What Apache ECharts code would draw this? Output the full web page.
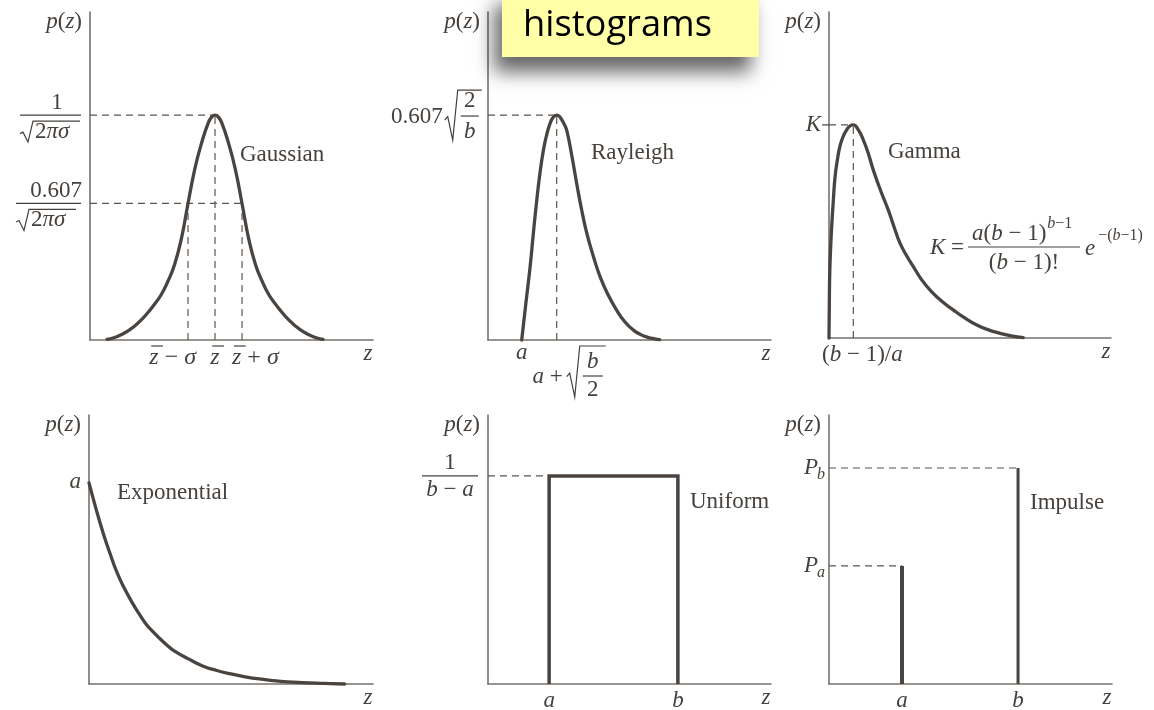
<!DOCTYPE html>
<html><head><meta charset="utf-8">
<script src="https://cdn.jsdelivr.net/npm/echarts@6/dist/echarts.min.js"></script>
<style>html,body{margin:0;padding:0;background:#fff}#c{width:1154px;height:710px}</style>
</head><body><div id="c"></div>
<script>
// ---------------- data ----------------
const gaussianCurve = [[-4,0.003],[-3.75,0.01],[-3.5,0.022],[-3.25,0.038],[-3,0.06],[-2.75,0.087],[-2.5,0.12],[-2.25,0.158],[-2,0.2],[-1.75,0.26],[-1.5,0.335],[-1.25,0.448],[-1,0.607],[-0.75,0.76],[-0.5,0.875],[-0.25,0.965],[-0.12,0.992],[0,1],[0.12,0.992],[0.25,0.965],[0.5,0.875],[0.75,0.76],[1,0.607],[1.25,0.448],[1.5,0.335],[1.75,0.26],[2,0.2],[2.25,0.158],[2.5,0.12],[2.75,0.087],[3,0.06],[3.25,0.038],[3.5,0.022],[3.75,0.01],[4,0.003]];
const gaussianMarks = [0, 1, 1, 0.607];            // mean, sigma, peak, level at ±sigma
const gaussianTicks = [-1, 0, 1];
const gaussianTickLabels = ['z\u0304 \u2212 \u03c3', 'z\u0304', 'z\u0304 + \u03c3'];

const rayleighCurve = [[0,0],[0.12,0.165],[0.24,0.326],[0.33,0.47],[0.43,0.622],[0.52,0.74],[0.62,0.844],[0.71,0.91],[0.81,0.963],[0.9,0.99],[1,1],[1.07,0.995],[1.14,0.98],[1.21,0.96],[1.29,0.93],[1.43,0.82],[1.57,0.696],[1.71,0.58],[1.86,0.474],[2.05,0.37],[2.24,0.281],[2.47,0.2],[2.71,0.133],[2.95,0.08],[3.19,0.044],[3.4,0.024],[3.6,0.012],[3.8,0.005],[3.94,0.002]];
const rayleighMarks = [0, 1, 1];                   // a, a+sqrt(b/2), peak
const rayleighTickLabels = ['a'];

const gammaCurve = [[0,0],[0.015,0.18],[0.03,0.3],[0.07,0.43],[0.11,0.52],[0.18,0.65],[0.25,0.757],[0.35,0.84],[0.45,0.9],[0.58,0.945],[0.73,0.977],[0.86,0.995],[1,1],[1.2,0.978],[1.41,0.93],[1.62,0.865],[1.82,0.789],[2.13,0.69],[2.44,0.6],[2.68,0.52],[2.92,0.445],[3.2,0.385],[3.47,0.335],[3.8,0.275],[4.16,0.225],[4.64,0.172],[5.12,0.131],[5.6,0.093],[6.08,0.061],[6.56,0.038],[7.04,0.022],[7.5,0.01],[7.99,0.002]];
const gammaMarks = [1, 1];                         // (b-1)/a, K
const gammaTickLabels = ['(b \u2212 1)/a'];

const exponentialCurve = [[0,1],[0.25,0.87],[0.5,0.75],[0.75,0.645],[1,0.55],[1.25,0.475],[1.5,0.41],[1.75,0.352],[2,0.3],[2.25,0.26],[2.5,0.225],[2.75,0.193],[3,0.165],[3.5,0.125],[4,0.09],[4.5,0.067],[5,0.05],[5.5,0.036],[6,0.025],[6.5,0.017],[7,0.011],[7.5,0.007],[8,0.004],[8.5,0.002],[9,0.0]];
const exponentialMarks = [1];                      // a

const uniformEdges = [2.16, 6.71];                 // a, b
const uniformHeight = [1];                         // 1/(b-a)
const uniformTickLabels = ['a', 'b'];

const impulsePositions = [2.58, 6.68];             // a, b
const impulseHeights = [0.439, 0.803];             // Pa, Pb
const impulseTickLabels = ['a', 'b'];

const panelNames = ['Gaussian', 'Rayleigh', 'Gamma', 'Exponential', 'Uniform', 'Impulse'];
const titleText = 'histograms';

// ---------------- layout / style ----------------
const COL_CURVE = '#4a4440';
const COL_AXIS = '#77716b';
const COL_DASH = '#5a5550';
const COL_TEXT = '#46413d';
const SERIF = '"Liberation Serif", "DejaVu Serif", serif';
const FS = 23;

const grids = [
  {left:90,  top:12,  width:283, height:328},
  {left:488, top:12,  width:283, height:328},
  {left:829, top:12,  width:282, height:326},
  {left:89,  top:415, width:284, height:269},
  {left:488, top:415, width:283, height:269},
  {left:829, top:415, width:283, height:269}
];
const xRanges = [[-4.63,5.85],[-0.963,7.12],[0,11.6],[0,10],[0,10],[0,10]];
const yRanges = [[0,1.458],[0,1.458],[0,1.53],[0,1.338],[0,1.293],[0,1]];

const chart = echarts.init(document.getElementById('c'));

const axisCommon = {axisTick:{show:false}, axisLabel:{show:false}, splitLine:{show:false}};
const xAxes = grids.map((g,i)=>Object.assign({type:'value', gridIndex:i, min:xRanges[i][0], max:xRanges[i][1],
  axisLine:{show:true, onZero:false, lineStyle:{color:COL_AXIS, width:1.6}}}, axisCommon));
const yAxes = grids.map((g,i)=>Object.assign({type:'value', gridIndex:i, min:yRanges[i][0], max:yRanges[i][1],
  axisLine:{show:true, onZero:false, lineStyle:{color:COL_AXIS, width:1.6}}}, axisCommon));

function curve(i, data, w){ return {type:'line', xAxisIndex:i, yAxisIndex:i, data, smooth:0.5, showSymbol:false, symbol:'none', clip:false, silent:true, z:3, lineStyle:{color:COL_CURVE, width:w||3.3, cap:'round', join:'round'}}; }
function seg(i, data, w){ return {type:'line', xAxisIndex:i, yAxisIndex:i, data, showSymbol:false, symbol:'none', clip:false, silent:true, z:3, lineStyle:{color:COL_CURVE, width:w||3, join:'miter'}}; }
function dash(i, data){ return {type:'line', xAxisIndex:i, yAxisIndex:i, data, showSymbol:false, symbol:'none', clip:false, silent:true, z:2, lineStyle:{color:COL_DASH, width:1.2, type:[7,5]}}; }

const [gm, gs, gp, gl] = gaussianMarks;
const gx0 = xRanges[0][0];
const series = [
  curve(0, gaussianCurve),
  dash(0, [[gx0, gp],[gm, gp]]),
  dash(0, [[gm, 0],[gm, gp]]),
  dash(0, [[gx0, gl],[gm+gs, gl]]),
  dash(0, [[gm-gs, 0],[gm-gs, gl]]),
  dash(0, [[gm+gs, 0],[gm+gs, gl]]),

  curve(1, rayleighCurve),
  dash(1, [[xRanges[1][0], rayleighMarks[2]],[rayleighMarks[1], rayleighMarks[2]]]),
  dash(1, [[rayleighMarks[1], 0],[rayleighMarks[1], rayleighMarks[2]]]),

  curve(2, gammaCurve),
  dash(2, [[0, gammaMarks[1]],[gammaMarks[0], gammaMarks[1]]]),
  dash(2, [[gammaMarks[0], 0],[gammaMarks[0], gammaMarks[1]]]),

  curve(3, exponentialCurve),

  dash(4, [[0, uniformHeight[0]],[uniformEdges[0], uniformHeight[0]]]),
  seg(4, [[uniformEdges[0],0],[uniformEdges[0],uniformHeight[0]],[uniformEdges[1],uniformHeight[0]],[uniformEdges[1],0]], 3.5),

  dash(5, [[0, impulseHeights[1]],[impulsePositions[1], impulseHeights[1]]]),
  dash(5, [[0, impulseHeights[0]],[impulsePositions[0], impulseHeights[0]]]),
  seg(5, [[impulsePositions[0],0],[impulsePositions[0],impulseHeights[0]]], 4),
  seg(5, [[impulsePositions[1],0],[impulsePositions[1],impulseHeights[1]]], 3)
];

chart.setOption({
  animation:false,
  backgroundColor:'#ffffff',
  grid: grids.map(g=>Object.assign({containLabel:false}, g)),
  xAxis: xAxes, yAxis: yAxes, series
});

// ---------------- text helpers ----------------
const ctx = document.createElement('canvas').getContext('2d');
function fontStr(size, italic){ return (italic?'italic ':'') + size + 'px ' + SERIF; }
function measure(s, size, italic){ ctx.font = fontStr(size, italic); return ctx.measureText(s).width; }
function textEl(x, y, text, font, align, fill){
  return {type:'text', x, y, z:50, silent:true,
    style:{text, font, fill:fill||COL_TEXT, align:align||'left', textAlign:align||'left', verticalAlign:'middle', textVerticalAlign:'middle'}};
}
function lineEl(x1,y1,x2,y2,w,dashArr){
  return {type:'line', z:50, silent:true, shape:{x1,y1,x2,y2}, style:{stroke:COL_TEXT, lineWidth:w||1.2, lineDash:dashArr||null}};
}
function runsOf(str){
  const chars = Array.from(str); const runs = [];
  for (let i=0;i<chars.length;i++){
    const ch = chars[i];
    if (ch === '\u0304'){ if (runs.length) runs[runs.length-1].bar = true; continue; }
    const it = /[A-Za-z\u03c0\u03c3]/.test(ch);
    const solo = chars[i+1] === '\u0304';
    const last = runs[runs.length-1];
    if (!solo && last && last.italic === it && !last.bar && !last.solo) last.text += ch;
    else runs.push({text:ch, italic:it, bar:false, solo});
  }
  return runs;
}
const G = [];
function math(str, x, y, size, align){
  const runs = runsOf(str);
  runs.forEach(r=>r.w = measure(r.text, size, r.italic));
  const total = runs.reduce((s,r)=>s+r.w,0);
  let cx = align==='center' ? x-total/2 : align==='right' ? x-total : x;
  const start = cx;
  runs.forEach(r=>{
    G.push(textEl(cx, y, r.text, fontStr(size, r.italic), 'left'));
    if (r.bar) G.push(lineEl(cx+size*0.08, y-size*0.5, cx+r.w+size*0.18, y-size*0.5, 1.2));
    cx += r.w;
  });
  return {left:start, right:cx};
}
function plain(str, x, y, size){ G.push(textEl(x, y, str, size+'px '+SERIF, 'left')); }
function radical(x0, yT, yB, xEnd){
  const h = yB - yT;
  G.push({type:'polyline', z:50, silent:true,
    shape:{points:[[x0, yT+0.6*h],[x0+3, yT+0.53*h],[x0+8, yB],[x0+13, yT],[xEnd, yT]]},
    style:{stroke:COL_TEXT, fill:null, lineWidth:1.2}});
}
const P = (i, x, y) => chart.convertToPixel({gridIndex:i}, [x, y]);

// p(z) and z on every panel
grids.forEach((g,i)=>{
  math('p(z)', g.left-8, g.top+10, FS, 'right');
  math('z', g.left+g.width-5, g.top+g.height+14, FS, 'center');
});

// Gaussian
{
  const peakY = P(0, gm, gp)[1], levY = P(0, gm, gl)[1], base = P(0, gm, 0)[1];
  math('1', 57, peakY-12, FS, 'center');
  G.push(lineEl(20, peakY, 81, peakY, 1.2));
  radical(20, peakY+6, peakY+27, 80);
  math('2\u03c0\u03c3', 35, peakY+17, FS, 'left');
  math('0.607', 56, levY-12, FS, 'center');
  G.push(lineEl(16, levY, 81, levY, 1.2));
  radical(16, levY+6, levY+27, 76);
  math('2\u03c0\u03c3', 31, levY+17, FS, 'left');
  plain(panelNames[0], 240, 155, FS);
  const al = ['right','center','left'], off = [8,0,-10];
  gaussianTicks.forEach((t,k)=>{ const px = P(0, gm + t*gs, 0)[0]; math(gaussianTickLabels[k], px+off[k], base+18, FS+1, al[k]); });
}
// Rayleigh
{
  const [pkX, pkY] = P(1, rayleighMarks[1], rayleighMarks[2]);
  const base = P(1, 0, 0)[1];
  math('0.607', pkX-114, pkY+2, FS, 'right');
  radical(pkX-112, pkY-25, pkY+25, pkX-75);
  math('2', pkX-87, pkY-14, FS, 'center');
  G.push(lineEl(pkX-96, pkY+1, pkX-78, pkY+1, 1.2));
  math('b', pkX-87, pkY+17, FS, 'center');
  plain(panelNames[1], 591, 153, FS);
  math(rayleighTickLabels[0], P(1, rayleighMarks[0], 0)[0], base+13, FS, 'center');
  math('a +', pkX+6, base+37, FS, 'right');
  radical(pkX+10, base+6, base+57, pkX+49);
  math('b', pkX+36, base+22, FS, 'center');
  G.push(lineEl(pkX+26, base+36, pkX+46, base+36, 1.2));
  math('2', pkX+36, base+50, FS, 'center');
}
// Gamma
{
  const [pkX, pkY] = P(2, gammaMarks[0], gammaMarks[1]);
  const [ax, base] = P(2, 0, 0);
  math('K', ax-8, pkY, FS, 'right');
  G.push(lineEl(ax-7, pkY, ax, pkY, 1.2));
  plain(panelNames[2], 888, 152, FS);
  math('K =', 964, 248, FS, 'right');
  G.push(lineEl(968, 247, 1080, 247, 1.2));
  const num = math('a(b \u2212 1)', 972, 234, FS, 'left');
  math('b\u22121', num.right+1, 224, 16, 'left');
  math('(b \u2212 1)!', 1024, 263, FS, 'center');
  const e = math('e', 1085, 249, FS, 'left');
  math('\u2212(b\u22121)', e.right+3, 236, 16, 'left');
  math(gammaTickLabels[0], ax-7, base+17, FS, 'left');
}
// Exponential
{
  const [ax, ay] = P(3, 0, exponentialMarks[0]);
  math('a', ax-8, ay-1, FS, 'right');
  plain(panelNames[3], 117, 493, FS);
}
// Uniform
{
  const [ax, hy] = P(4, 0, uniformHeight[0]);
  const base = P(4, 0, 0)[1];
  math('1', 450, hy-13, FS, 'center');
  G.push(lineEl(422, hy, 478, hy, 1.2));
  math('b \u2212 a', 450, hy+14, FS, 'center');
  plain(panelNames[4], 690, 502, FS);
  uniformEdges.forEach((v,k)=>math(uniformTickLabels[k], P(4, v, 0)[0], base+17, FS, 'center'));
}
// Impulse
{
  const [ax, base] = P(5, 0, 0);
  const ya = P(5, 0, impulseHeights[0])[1], yb = P(5, 0, impulseHeights[1])[1];
  math('P', ax-11, yb, FS, 'right'); math('b', ax-12, yb+7, 16, 'left');
  math('P', ax-11, ya, FS, 'right'); math('a', ax-12, ya+7, 16, 'left');
  plain(panelNames[5], 1030, 503, FS);
  impulsePositions.forEach((v,k)=>math(impulseTickLabels[k], P(5, v, 0)[0], base+17, FS, 'center'));
}
// Title box
{
  ctx.font = '36px "Open Sans"';
  const fs = Math.min(40, 36*189/ctx.measureText(titleText).width);
  G.push({type:'rect', z:100, silent:true, shape:{x:502, y:-10, width:257, height:67},
    style:{fill:'#FFFFA8', shadowBlur:18, shadowOffsetX:-8, shadowOffsetY:15, shadowColor:'rgba(0,0,0,0.6)'}});
  G.push({type:'text', z:101, silent:true, x:523, y:26,
    style:{text:titleText, font:fs+'px "Open Sans"', fill:'#000', align:'left', textAlign:'left', verticalAlign:'middle', textVerticalAlign:'middle'}});
}
chart.setOption({graphic:{elements:G}});
</script>
</body></html>
